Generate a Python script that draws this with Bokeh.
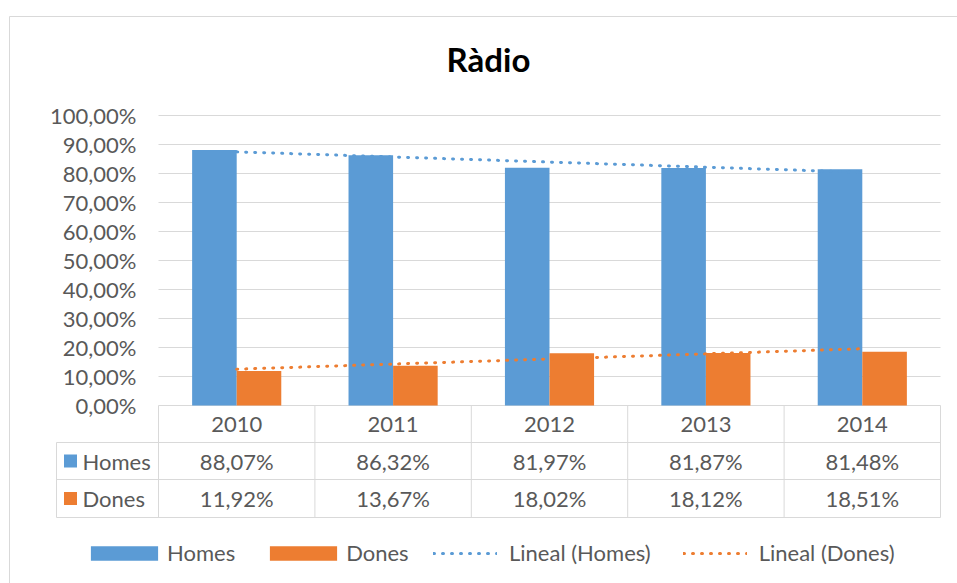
import numpy as np
from bokeh.plotting import figure
from bokeh.models import Range1d, FixedTicker, LinearAxis, Legend, LegendItem
from bokeh.core.properties import value
from bokeh.embed import file_html
from bokeh.resources import INLINE

# ---------------- data ----------------
title = "Ràdio"
years = ["2010", "2011", "2012", "2013", "2014"]
homes = [88.07, 86.32, 81.97, 81.87, 81.48]
dones = [11.92, 13.67, 18.02, 18.12, 18.51]
series = ["Homes", "Dones"]
trend_labels = ["Lineal (Homes)", "Lineal (Dones)"]
y_ticks = [0, 10, 20, 30, 40, 50, 60, 70, 80, 90, 100]
y_tick_labels = ["0,00%", "10,00%", "20,00%", "30,00%", "40,00%", "50,00%",
                 "60,00%", "70,00%", "80,00%", "90,00%", "100,00%"]

# ---------------- style ----------------
BLUE, ORANGE = "#5B9BD5", "#ED7D31"
GRID, TEXT = "#D9D9D9", "#595959"
FONT = "Lato"
FS = "22px"

W, H = 957, 583
L, R, Z, T = 158, 940, 405, 115      # px of plot area (left, right, 0%, 100%)
n = len(years)
ux = (R - L) / n
uy = (Z - T) / 100.0


def cx(c):
    return (c - L) / ux


def cy(c):
    return (Z - c) / uy


def fmt(v):
    return ("%.2f" % v).replace(".", ",") + "%"


p = figure(width=W, height=H, x_range=Range1d(cx(0), cx(W)), y_range=Range1d(cy(H), cy(0)),
           x_axis_type=None, y_axis_type=None, output_backend="svg",
           toolbar_location=None, min_border=0)
p.outline_line_color = None
p.background_fill_color = "white"
p.border_fill_color = "white"

idx = np.arange(n)
centers = idx + 0.5

# chart border
p.segment(x0=[cx(9), cx(9)], x1=[cx(W), cx(9)], y0=[cy(16), cy(16)], y1=[cy(16), cy(H)],
          line_color=GRID, line_width=1)

# gridlines
p.segment(x0=0, x1=n, y0=y_ticks, y1=y_ticks, line_color=GRID, line_width=1)

# bars
bw = 0.285
hb = p.vbar(x=centers - bw / 2, top=homes, bottom=0, width=bw, fill_color=BLUE, line_color=None)
db = p.vbar(x=centers + bw / 2, top=dones, bottom=0, width=bw, fill_color=ORANGE, line_color=None)

# linear trend lines
kh = np.polyfit(idx, homes, 1)
kd = np.polyfit(idx, dones, 1)
th = p.line(centers, np.polyval(kh, idx), line_color=BLUE, line_width=3,
            line_dash="1 8", line_cap="round")
td = p.line(centers, np.polyval(kd, idx), line_color=ORANGE, line_width=3,
            line_dash="1 8", line_cap="round")

# data table
edges = np.arange(n + 1)
row_y = [cy(442), cy(479), cy(517)]
p.segment(x0=edges, x1=edges, y0=0, y1=cy(517), line_color=GRID, line_width=1)
p.segment(x0=cx(56), x1=n, y0=row_y, y1=row_y, line_color=GRID, line_width=1)
p.segment(x0=cx(56), x1=cx(56), y0=cy(442), y1=cy(517), line_color=GRID, line_width=1)

txt = dict(text_font=value(FONT), text_font_size=FS, text_color=TEXT, text_baseline="middle")
p.text(x=centers, y=cy(423.5), text=years, text_align="center", **txt)
p.text(x=centers, y=cy(460.5), text=[fmt(v) for v in homes], text_align="center", **txt)
p.text(x=centers, y=cy(498), text=[fmt(v) for v in dones], text_align="center", **txt)
p.scatter(x=[cx(70), cx(70)], y=[cy(460.5), cy(498)], marker="square", size=13,
          fill_color=[BLUE, ORANGE], line_color=None)
p.text(x=cx(82), y=[cy(460.5), cy(498)], text=series, text_align="left", **txt)

# title
p.text(x=[cx(488)], y=[cy(58)], text=[title], text_align="center", text_baseline="middle",
       text_font=value(FONT), text_font_style="bold", text_font_size="33px", text_color="#000000")

# y axis
yaxis = LinearAxis(ticker=FixedTicker(ticks=y_ticks), fixed_location=cx(140),
                   major_label_overrides={t: s for t, s in zip(y_ticks, y_tick_labels)},
                   axis_line_color=None, major_tick_line_color=None, minor_tick_line_color=None,
                   major_tick_out=0, major_tick_in=0, major_label_standoff=4,
                   major_label_text_font=FONT, major_label_text_font_size=FS,
                   major_label_text_color=TEXT)
p.add_layout(yaxis, "left")

# legends
common = dict(orientation="horizontal", padding=0, margin=0, border_line_alpha=0,
              background_fill_alpha=0, label_text_font=FONT, label_text_font_size=FS,
              label_text_color=TEXT)
leg1 = Legend(items=[LegendItem(label=series[0], renderers=[hb]),
                     LegendItem(label=series[1], renderers=[db])],
              location=(82, 17), glyph_width=84, glyph_height=18, label_standoff=1, spacing=26,
              **common)
leg2 = Legend(items=[LegendItem(label=trend_labels[0], renderers=[th]),
                     LegendItem(label=trend_labels[1], renderers=[td])],
              location=(433, 17), glyph_width=64, glyph_height=18, label_standoff=12, spacing=32,
              **common)
p.add_layout(leg1)
p.add_layout(leg2)

open("out.html", "w", encoding="utf-8").write(file_html(p, INLINE, title))
